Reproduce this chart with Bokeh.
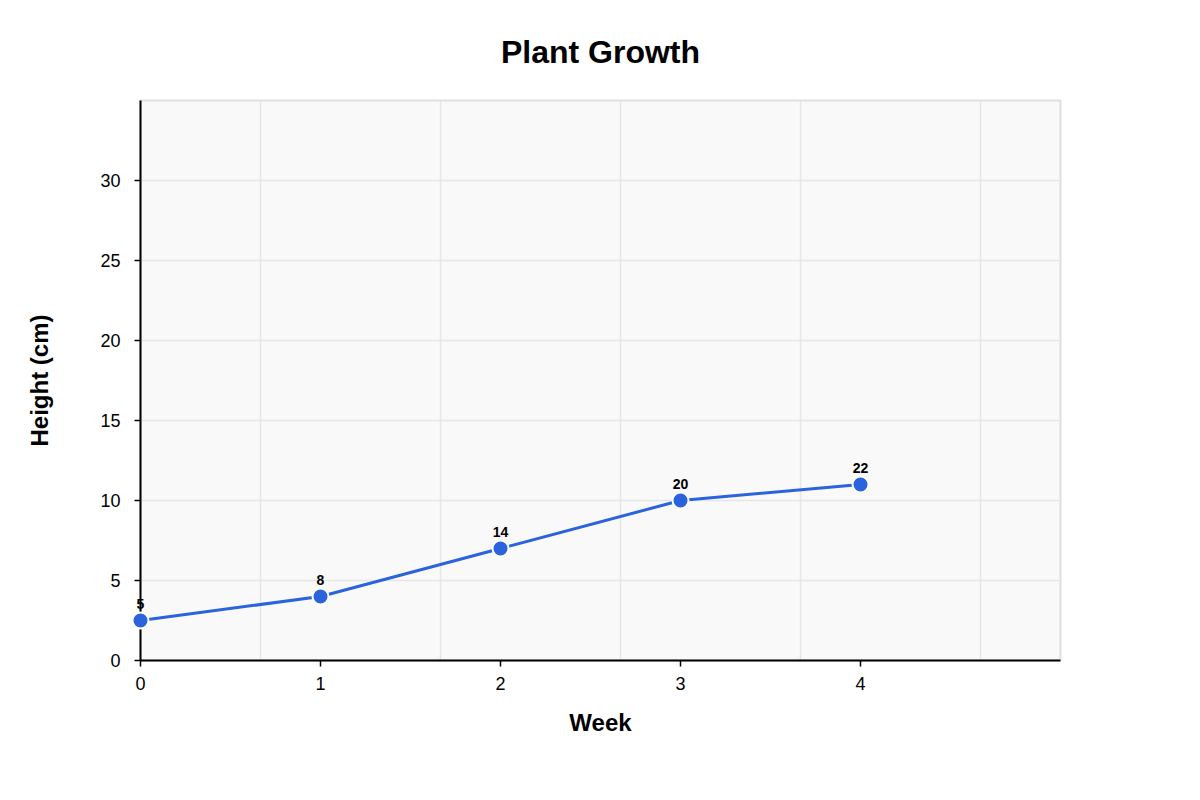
from bokeh.plotting import figure
from bokeh.models import Range1d, FixedTicker, ColumnDataSource, Title
from bokeh.core.properties import value
from bokeh.embed import file_html
from bokeh.resources import INLINE

# data
weeks = [0, 1, 2, 3, 4]
heights = [2.5, 4, 7, 10, 11]
point_labels = ["5", "8", "14", "20", "22"]
y_ticks = [0, 5, 10, 15, 20, 25, 30]
x_grid = [0.667, 1.667, 2.667, 3.667, 4.667]

FONT = "Liberation Sans"
BLUE = "#2a63dc"

src = ColumnDataSource(data=dict(x=weeks, y=heights, lab=point_labels))

p = figure(width=1200, height=800, output_backend="svg", toolbar_location=None,
           x_range=Range1d(0, 5.111), y_range=Range1d(0, 35),
           min_border_left=140, min_border_right=140,
           min_border_top=100, min_border_bottom=140)

p.title = Title(text="Plant Growth", align="center", text_font=FONT,
                text_font_size="32px", text_font_style="bold",
                text_color="black", standoff=62)

p.background_fill_color = "#f9f9f9"
p.border_fill_color = "white"
p.outline_line_color = "#e0e0e0"
p.outline_line_width = 2

p.line("x", "y", source=src, line_color=BLUE, line_width=3)
p.scatter("x", "y", source=src, size=16, fill_color=BLUE,
          line_color="white", line_width=2, level="overlay")
p.text("x", "y", text="lab", source=src, text_align="center",
       text_baseline="bottom", y_offset=-12, text_font=value(FONT),
       text_font_size="14px", text_font_style="bold", text_color="black",
       level="overlay")

p.xaxis.ticker = FixedTicker(ticks=weeks)
p.yaxis.ticker = FixedTicker(ticks=y_ticks)
p.xgrid.ticker = FixedTicker(ticks=x_grid)
p.ygrid.ticker = FixedTicker(ticks=y_ticks)
p.grid.grid_line_color = "#e6e6e6"
p.grid.grid_line_width = 1.5

for ax in (p.xaxis, p.yaxis):
    ax.axis_line_color = "black"
    ax.axis_line_width = 2
    ax.major_tick_line_color = "black"
    ax.major_tick_line_width = 1.5
    ax.major_tick_out = 6
    ax.major_tick_in = 0
    ax.minor_tick_line_color = None
    ax.major_label_text_font = FONT
    ax.major_label_text_font_size = "18px"
    ax.major_label_text_color = "black"
    ax.axis_label_text_font = FONT
    ax.axis_label_text_font_size = "24px"
    ax.axis_label_text_font_style = "bold"
    ax.axis_label_text_color = "black"

p.xaxis.axis_label = "Week"
p.xaxis.major_label_standoff = 10
p.xaxis.axis_label_standoff = 16
p.yaxis.axis_label = "Height (cm)"
p.yaxis.major_label_standoff = 14
p.yaxis.axis_label_standoff = 44

open("out.html", "w").write(file_html(p, INLINE))
